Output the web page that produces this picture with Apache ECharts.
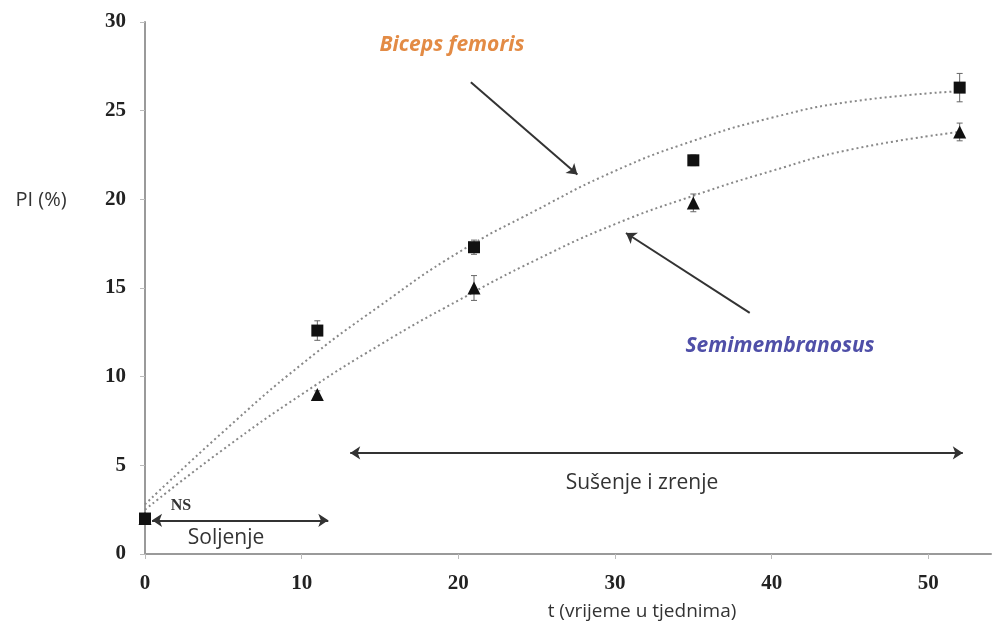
<!DOCTYPE html>
<html>
<head>
<meta charset="utf-8">
<script src="https://cdn.jsdelivr.net/npm/echarts@6/dist/echarts.min.js"></script>
<style>
  html, body { margin: 0; padding: 0; background: #fff; }
  #chart { width: 993px; height: 630px; }
</style>
</head>
<body>
<div id="chart"></div>
<script>
// measured points (weeks, PI %)
const weeks = [0, 11, 21, 35, 52];
const bicepsPI = [2.0, 12.6, 17.3, 22.2, 26.3];
const bicepsErr = [0.1, 0.55, 0.4, 0.3, 0.8];
const semiPI = [2.0, 9.0, 15.0, 19.8, 23.8];
const semiErr = [0.1, 0.2, 0.7, 0.5, 0.5];

// trend lines
const trendX = [0, 5, 10, 15, 20, 25, 30, 35, 40, 45, 52];
const bicepsTrend = [2.8, 6.9, 10.7, 14.0, 17.0, 19.4, 21.6, 23.3, 24.6, 25.5, 26.1];
const semiTrend = [2.5, 5.9, 9.0, 11.8, 14.3, 16.6, 18.6, 20.2, 21.6, 22.8, 23.8];

const xTicks = [0, 10, 20, 30, 40, 50];

const chart = echarts.init(document.getElementById('chart'), null, { renderer: 'canvas' });

const pairs = (xs, ys) => xs.map((x, i) => [x, ys[i]]);
const errData = (ys, es) => weeks.map((x, i) => [x, ys[i] - es[i], ys[i] + es[i]]);

function errorBar(params, api) {
  const lo = api.coord([api.value(0), api.value(1)]);
  const hi = api.coord([api.value(0), api.value(2)]);
  const w = 3;
  const st = { stroke: '#666', lineWidth: 1 };
  return {
    type: 'group',
    children: [
      { type: 'line', shape: { x1: lo[0], y1: lo[1], x2: hi[0], y2: hi[1] }, style: st },
      { type: 'line', shape: { x1: lo[0] - w, y1: lo[1], x2: lo[0] + w, y2: lo[1] }, style: st },
      { type: 'line', shape: { x1: hi[0] - w, y1: hi[1], x2: hi[0] + w, y2: hi[1] }, style: st }
    ]
  };
}

const arrowStyle = { color: '#333', width: 2, type: 'solid' };
const tickFont = { color: '#222', fontFamily: 'Liberation Serif', fontWeight: 'bold', fontSize: 21 };

chart.setOption({
  animation: false,
  backgroundColor: '#fff',
  grid: { left: 145, right: 2, top: 22, bottom: 76, containLabel: false },
  xAxis: {
    type: 'value', min: 0, max: 54, interval: 10,
    axisLine: { show: true, lineStyle: { color: '#9a9a9a', width: 2 } },
    axisTick: { show: true, length: 5, customValues: xTicks, lineStyle: { color: '#bbb' } },
    axisLabel: Object.assign({ customValues: xTicks, margin: 19 }, tickFont),
    splitLine: { show: false }
  },
  yAxis: {
    type: 'value', min: 0, max: 30, interval: 5,
    axisLine: { show: true, lineStyle: { color: '#9a9a9a', width: 2 } },
    axisTick: { show: true, length: 5, lineStyle: { color: '#bbb' } },
    axisLabel: Object.assign({ margin: 19 }, tickFont),
    splitLine: { show: false }
  },
  series: [
    {
      name: 'Biceps trend', type: 'line', data: pairs(trendX, bicepsTrend), smooth: true, symbol: 'none',
      lineStyle: { color: '#888', width: 2, type: [2, 3] }, z: 1
    },
    {
      name: 'Semi trend', type: 'line', data: pairs(trendX, semiTrend), smooth: true, symbol: 'none',
      lineStyle: { color: '#888', width: 2, type: [2, 3] }, z: 1
    },
    { type: 'custom', renderItem: errorBar, data: errData(bicepsPI, bicepsErr), z: 2 },
    { type: 'custom', renderItem: errorBar, data: errData(semiPI, semiErr), z: 2 },
    {
      name: 'Semimembranosus', type: 'scatter', data: pairs(weeks, semiPI), symbol: 'triangle', symbolSize: 13,
      itemStyle: { color: '#111', opacity: 1 }, z: 3
    },
    {
      name: 'Biceps femoris', type: 'scatter', data: pairs(weeks, bicepsPI), symbol: 'rect', symbolSize: 12,
      itemStyle: { color: '#111', opacity: 1 }, z: 4,
      markLine: {
        silent: true, symbolSize: 10, label: { show: false }, lineStyle: arrowStyle,
        data: [
          [{ coord: [20.8, 26.6], symbol: 'none' }, { coord: [27.6, 21.4], symbol: 'arrow' }],
          [{ coord: [38.6, 13.6], symbol: 'none' }, { coord: [30.7, 18.1], symbol: 'arrow' }],
          [{ coord: [13.1, 5.7], symbol: 'arrow' }, { coord: [52.2, 5.7], symbol: 'arrow' }],
          [{ coord: [0.45, 1.9], symbol: 'arrow' }, { coord: [11.7, 1.9], symbol: 'arrow' }]
        ]
      }
    }
  ],
  graphic: [
    { type: 'text', x: 452, y: 45, style: { text: 'Biceps femoris', fill: '#E38B45', font: 'italic bold 21px "Open Sans"', textAlign: 'center', textVerticalAlign: 'middle' } },
    { type: 'text', x: 780, y: 346, style: { text: 'Semimembranosus', fill: '#4F4FA8', font: 'italic bold 21px "Open Sans"', textAlign: 'center', textVerticalAlign: 'middle' } },
    { type: 'text', x: 642, y: 483, style: { text: 'Sušenje i zrenje', fill: '#333', font: '21px "Open Sans"', textAlign: 'center', textVerticalAlign: 'middle' } },
    { type: 'text', x: 226, y: 538, style: { text: 'Soljenje', fill: '#333', font: '21px "Open Sans"', textAlign: 'center', textVerticalAlign: 'middle' } },
    { type: 'text', x: 181, y: 506, style: { text: 'NS', fill: '#333', font: 'bold 16px "Liberation Serif"', textAlign: 'center', textVerticalAlign: 'middle' } },
    { type: 'text', x: 41, y: 200, style: { text: 'PI (%)', fill: '#333', font: '20px "Open Sans"', textAlign: 'center', textVerticalAlign: 'middle' } },
    { type: 'text', x: 642, y: 612, style: { text: 't (vrijeme u tjednima)', fill: '#333', font: '19px "Open Sans"', textAlign: 'center', textVerticalAlign: 'middle' } }
  ]
});
</script>
</body>
</html>
